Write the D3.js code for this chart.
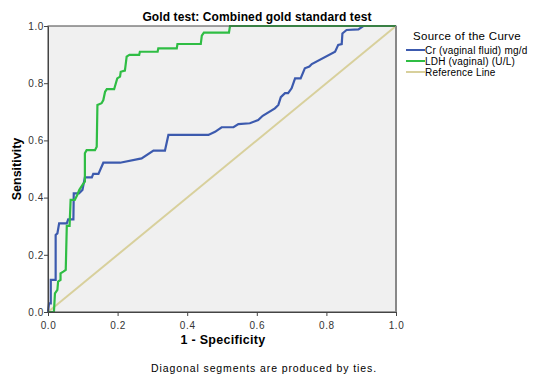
<!DOCTYPE html>
<html>
<head>
<meta charset="utf-8">
<script src="https://cdn.jsdelivr.net/npm/d3@7"></script>
<style>
  body { margin: 0; background: #ffffff; }
  text { font-family: "Liberation Sans", Arial, sans-serif; }
</style>
</head>
<body>
<script>
// ROC points (1 - specificity, sensitivity)
var crFpr = [0, 0.003, 0.008, 0.008, 0.022, 0.022, 0.027, 0.032, 0.054, 0.058, 0.073, 0.074, 0.089, 0.099, 0.106, 0.126, 0.130, 0.145, 0.159, 0.207, 0.269, 0.303, 0.336, 0.346, 0.461, 0.480, 0.499, 0.533, 0.547, 0.580, 0.604, 0.617, 0.652, 0.662, 0.669, 0.681, 0.690, 0.700, 0.710, 0.726, 0.738, 0.751, 0.758, 0.825, 0.834, 0.844, 0.846, 0.858, 0.892, 0.906, 1];
var crTpr = [0, 0.030, 0.030, 0.112, 0.112, 0.269, 0.275, 0.310, 0.310, 0.324, 0.324, 0.415, 0.415, 0.427, 0.471, 0.471, 0.483, 0.483, 0.522, 0.522, 0.537, 0.564, 0.564, 0.619, 0.619, 0.630, 0.646, 0.646, 0.657, 0.660, 0.671, 0.686, 0.712, 0.724, 0.751, 0.765, 0.765, 0.782, 0.817, 0.817, 0.852, 0.858, 0.867, 0.910, 0.934, 0.937, 0.974, 0.986, 0.988, 1.0, 1.0];

var ldhFpr = [0, 0.017, 0.020, 0.027, 0.029, 0.036, 0.036, 0.044, 0.051, 0.054, 0.062, 0.065, 0.077, 0.084, 0.090, 0.101, 0.106, 0.106, 0.111, 0.135, 0.140, 0.142, 0.154, 0.159, 0.164, 0.169, 0.190, 0.195, 0.199, 0.207, 0.209, 0.221, 0.226, 0.234, 0.262, 0.264, 0.315, 0.317, 0.370, 0.372, 0.439, 0.442, 0.448, 0.520, 0.523, 1];
var ldhTpr = [0, 0, 0.065, 0.077, 0.106, 0.112, 0.135, 0.141, 0.147, 0.301, 0.301, 0.392, 0.392, 0.409, 0.427, 0.448, 0.456, 0.555, 0.566, 0.566, 0.578, 0.724, 0.730, 0.741, 0.770, 0.779, 0.779, 0.800, 0.817, 0.823, 0.840, 0.844, 0.893, 0.899, 0.899, 0.910, 0.910, 0.922, 0.922, 0.937, 0.937, 0.966, 0.977, 0.977, 1.0, 1.0];

var refFpr = [0, 1];
var refTpr = [0, 1];

var ticks = [0, 0.2, 0.4, 0.6, 0.8, 1.0];
var seriesNames = ["Cr (vaginal fluid) mg/d", "LDH (vaginal) (U/L)", "Reference Line"];
var seriesColors = ["#3c5aae", "#2fbd44", "#d8d09c"];

var width = 540;
var height = 374;
var plotLeft = 48, plotRight = 396, plotTop = 26, plotBottom = 312;

var svg = d3.select("body").append("svg")
            .attr("width", width)
            .attr("height", height);

var xScale = d3.scaleLinear().domain([0, 1]).range([plotLeft, plotRight]);
var yScale = d3.scaleLinear().domain([0, 1]).range([plotBottom, plotTop]);

// plot area
svg.append("rect")
  .attr("x", plotLeft).attr("y", plotTop)
  .attr("width", plotRight - plotLeft).attr("height", plotBottom - plotTop)
  .attr("fill", "#f0f0f0");

var line = d3.line()
  .x(function(d) { return xScale(d[0]); })
  .y(function(d) { return yScale(d[1]); });

function pairs(xs, ys) {
  return xs.map(function(x, i) { return [x, ys[i]]; });
}

var series = [pairs(crFpr, crTpr), pairs(ldhFpr, ldhTpr), pairs(refFpr, refTpr)];

// reference first so the curves sit on top
svg.append("path")
  .attr("d", line(series[2]))
  .attr("fill", "none")
  .attr("stroke", seriesColors[2])
  .attr("stroke-width", 2);

svg.append("path")
  .attr("d", line(series[0]))
  .attr("fill", "none")
  .attr("stroke", seriesColors[0])
  .attr("stroke-width", 2.2);

svg.append("path")
  .attr("d", line(series[1]))
  .attr("fill", "none")
  .attr("stroke", seriesColors[1])
  .attr("stroke-width", 2.2);

// frame
svg.append("rect")
  .attr("x", plotLeft).attr("y", plotTop)
  .attr("width", plotRight - plotLeft).attr("height", plotBottom - plotTop)
  .attr("fill", "none")
  .attr("stroke", "#444")
  .attr("stroke-width", 1);
svg.append("line")
  .attr("x1", plotRight).attr("x2", plotRight)
  .attr("y1", plotTop).attr("y2", plotBottom)
  .attr("stroke", "#888").attr("stroke-width", 2);

var xAxis = d3.axisBottom(xScale).tickValues(ticks).tickFormat(d3.format(".1f")).tickSizeInner(4).tickSizeOuter(0);
var yAxis = d3.axisLeft(yScale).tickValues(ticks).tickFormat(d3.format(".1f")).tickSizeInner(4).tickSizeOuter(0);

var gx = svg.append("g").attr("transform", "translate(0," + plotBottom + ")").call(xAxis);
var gy = svg.append("g").attr("transform", "translate(" + plotLeft + ",0)").call(yAxis);
[gx, gy].forEach(function(g) {
  g.select(".domain").attr("stroke", "#444");
  g.selectAll(".tick line").attr("stroke", "#444");
  g.selectAll(".tick text")
    .attr("fill", "#333")
    .style("font-size", "10px")
    .style("letter-spacing", "0.6px")
    .style("font-family", "'Liberation Sans', Arial, sans-serif");
});
gx.selectAll(".tick text").attr("dy", "0.95em");
gy.selectAll(".tick text").attr("x", -4);

// titles
svg.append("text")
  .attr("x", 257).attr("y", 21)
  .attr("text-anchor", "middle")
  .style("font-size", "12px").style("font-weight", "bold")
  .style("letter-spacing", "0.1px")
  .text("Gold test: Combined gold standard test");

svg.append("text")
  .attr("x", 223).attr("y", 344)
  .attr("text-anchor", "middle")
  .style("font-size", "12.5px").style("font-weight", "bold")
  .style("letter-spacing", "0.3px")
  .text("1 - Specificity");

svg.append("text")
  .attr("transform", "translate(21," + ((plotTop + plotBottom) / 2) + ") rotate(-90)")
  .attr("text-anchor", "middle")
  .style("font-size", "12.5px").style("font-weight", "bold")
  .text("Sensitivity");

svg.append("text")
  .attr("x", 264).attr("y", 372)
  .attr("text-anchor", "middle")
  .style("font-size", "10.5px")
  .style("letter-spacing", "0.9px")
  .text("Diagonal segments are produced by ties.");

// legend
svg.append("text")
  .attr("x", 413).attr("y", 40)
  .style("font-size", "11.5px")
  .style("letter-spacing", "0.3px")
  .text("Source of the Curve");

var legend = svg.selectAll(".legend").data(seriesNames).enter().append("g")
  .attr("class", "legend")
  .attr("transform", function(d, i) { return "translate(406," + (50 + i * 11) + ")"; });
legend.append("line")
  .attr("x1", 0).attr("x2", 19)
  .attr("stroke", function(d, i) { return seriesColors[i]; })
  .attr("stroke-width", 2);
legend.append("text")
  .attr("x", 19).attr("y", 3.5)
  .style("font-size", "10px")
  .style("letter-spacing", "0.2px")
  .text(function(d) { return d; });
</script>
</body>
</html>
